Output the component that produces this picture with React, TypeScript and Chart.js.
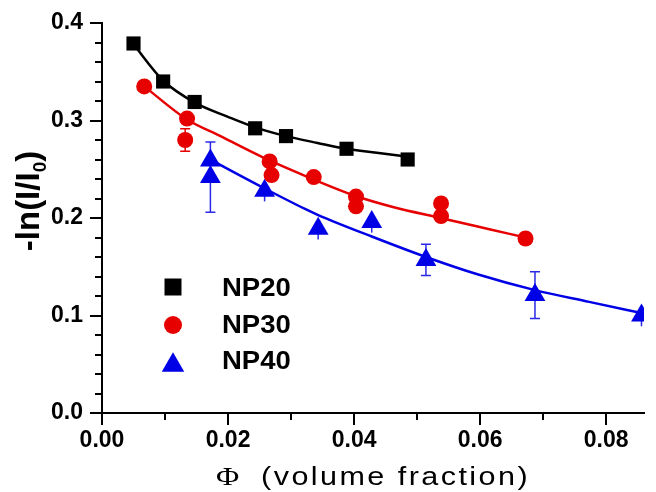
import React, { useEffect, useRef } from 'react';
import { Chart, registerables } from 'chart.js';

Chart.register(...registerables);

// ---------- data ----------
const seriesNames = ['NP20', 'NP30', 'NP40'];

const np20X = [0.0050, 0.0097, 0.0147, 0.0243, 0.0292, 0.0388, 0.0485];
const np20Y = [0.379, 0.340, 0.319, 0.292, 0.284, 0.271, 0.260];

const np30X = [0.0067, 0.0135, 0.0132, 0.0266, 0.0269, 0.0336, 0.0403, 0.0403, 0.0538, 0.0538, 0.0672];
const np30Y = [0.335, 0.302, 0.280, 0.258, 0.244, 0.242, 0.222, 0.212, 0.215, 0.202, 0.179];
const np30ErrPlus = [0, 0, 0.0115, 0, 0, 0, 0, 0, 0, 0, 0];
const np30ErrMinus = [0, 0, 0.0115, 0, 0, 0, 0, 0, 0, 0, 0];

const np40X = [0.0172, 0.0172, 0.0258, 0.0343, 0.0428, 0.0514, 0.0687, 0.0856];
const np40Y = [0.259, 0.242, 0.228, 0.189, 0.196, 0.157, 0.121, 0.100];
const np40ErrPlus = [0, 0.036, 0, 0, 0, 0.016, 0.024, 0];
const np40ErrMinus = [0, 0.036, 0.011, 0.011, 0.011, 0.016, 0.024, 0.011];

const fit20X = [0.0049, 0.0097, 0.0148, 0.0199, 0.0243, 0.0292, 0.0342, 0.0388, 0.0436, 0.0483];
const fit20Y = [0.379, 0.341, 0.318, 0.304, 0.293, 0.284, 0.277, 0.271, 0.267, 0.263];

const fit30X = [0.0067, 0.0135, 0.0188, 0.0266, 0.0323, 0.0405, 0.0463, 0.0537, 0.0618, 0.0672];
const fit30Y = [0.335, 0.301, 0.284, 0.259, 0.243, 0.222, 0.211, 0.200, 0.188, 0.180];

const fit40X = [0.0172, 0.0189, 0.0259, 0.0323, 0.0343, 0.0428, 0.0514, 0.0597, 0.0687, 0.0773, 0.0860];
const fit40Y = [0.260, 0.254, 0.230, 0.209, 0.203, 0.181, 0.160, 0.142, 0.126, 0.114, 0.102];

const xMajorTicks = [0, 0.02, 0.04, 0.06, 0.08];
const xTickLabels = ['0.00', '0.02', '0.04', '0.06', '0.08'];
const xMinorTicks = [0.01, 0.03, 0.05, 0.07];
const yMajorTicks = [0, 0.1, 0.2, 0.3, 0.4];
const yTickLabels = ['0.0', '0.1', '0.2', '0.3', '0.4'];
const yMinorTicks = [0.02, 0.04, 0.06, 0.08, 0.12, 0.14, 0.16, 0.18, 0.22, 0.24, 0.26, 0.28, 0.32, 0.34, 0.36, 0.38];

const xTitlePhi = 'Φ';
const xTitleRest = '  (volume fraction)';
const yTitleMain = '-ln(I/I';
const yTitleSub = '0';
const yTitleEnd = ')';

// ---------- styles ----------
const BLACK = '#000000';
const RED = '#e60000';
const BLUE = '#0000e6';
const ERR_BLUE = '#2a2ae6';
const TICK_FONT = { family: '"Liberation Sans", Arial, sans-serif', size: 23, weight: 'bold' };

const pts = (xs: number[], ys: number[]) => xs.map((x, i) => ({ x, y: ys[i] }));

const extrasPlugin = {
  id: 'extras',
  beforeDatasetsDraw(chart: any) {
    const ctx = chart.ctx;
    const xs = chart.scales.x;
    const ys = chart.scales.y;
    const drawErr = (X: number[], Y: number[], plus: number[], minus: number[], color: string) => {
      ctx.save();
      ctx.strokeStyle = color;
      ctx.lineWidth = 1.5;
      X.forEach((x, i) => {
        const p = plus[i];
        const m = minus[i];
        if (!p && !m) return;
        const px = xs.getPixelForValue(x);
        const top = ys.getPixelForValue(Y[i] + p);
        const bot = ys.getPixelForValue(Y[i] - m);
        ctx.beginPath();
        ctx.moveTo(px, top);
        ctx.lineTo(px, bot);
        if (p > 0) {
          ctx.moveTo(px - 5, top);
          ctx.lineTo(px + 5, top);
          ctx.moveTo(px - 5, bot);
          ctx.lineTo(px + 5, bot);
        }
        ctx.stroke();
      });
      ctx.restore();
    };
    drawErr(np30X, np30Y, np30ErrPlus, np30ErrMinus, RED);
    drawErr(np40X, np40Y, np40ErrPlus, np40ErrMinus, ERR_BLUE);
  },
  afterDraw(chart: any) {
    const ctx = chart.ctx;
    const xs = chart.scales.x;
    const ys = chart.scales.y;
    const area = chart.chartArea;
    ctx.save();
    // minor ticks
    ctx.strokeStyle = BLACK;
    ctx.lineWidth = 2;
    ctx.beginPath();
    xMinorTicks.forEach((v) => {
      const px = Math.round(xs.getPixelForValue(v));
      ctx.moveTo(px, area.bottom + 1);
      ctx.lineTo(px, area.bottom + 7);
    });
    yMinorTicks.forEach((v) => {
      const py = Math.round(ys.getPixelForValue(v));
      ctx.moveTo(area.left - 1, py);
      ctx.lineTo(area.left - 7, py);
    });
    ctx.stroke();

    // x title
    ctx.fillStyle = BLACK;
    ctx.textBaseline = 'alphabetic';
    ctx.textAlign = 'left';
    ctx.font = '26px "Liberation Serif"';
    const wPhi = ctx.measureText(xTitlePhi).width;
    ctx.font = '25px "Liberation Sans"';
    (ctx as any).letterSpacing = '2px';
    const wRest = ctx.measureText(xTitleRest).width;
    const targetW = 314;
    const sx = targetW / (wPhi + wRest);
    const cx = (area.left + area.right) / 2;
    ctx.save();
    ctx.translate(cx - targetW / 2, 485);
    ctx.scale(sx, 1);
    (ctx as any).letterSpacing = '0px';
    ctx.font = '26px "Liberation Serif"';
    ctx.fillText(xTitlePhi, 0, 0);
    (ctx as any).letterSpacing = '2px';
    ctx.font = '25px "Liberation Sans"';
    ctx.fillText(xTitleRest, wPhi, 0);
    ctx.restore();
    (ctx as any).letterSpacing = '0px';

    // y title (rotated, with subscript)
    ctx.font = 'bold 33px "Liberation Sans"';
    const w1 = ctx.measureText(yTitleMain).width;
    const w3 = ctx.measureText(yTitleEnd).width;
    ctx.font = 'bold 19px "Liberation Sans"';
    const w2 = ctx.measureText(yTitleSub).width;
    const total = w1 + w2 + w3;
    ctx.save();
    ctx.translate(38.5, 201);
    ctx.rotate(-Math.PI / 2);
    let pos = -total / 2;
    ctx.font = 'bold 33px "Liberation Sans"';
    ctx.fillText(yTitleMain, pos, 0);
    pos += w1;
    ctx.font = 'bold 19px "Liberation Sans"';
    ctx.fillText(yTitleSub, pos, 7);
    pos += w2;
    ctx.font = 'bold 33px "Liberation Sans"';
    ctx.fillText(yTitleEnd, pos, 0);
    ctx.restore();

    // legend
    const rows = [287, 324, 360];
    const colors = [BLACK, RED, BLUE];
    const mx = 173;
    rows.forEach((ry, i) => {
      ctx.fillStyle = colors[i];
      ctx.beginPath();
      if (i === 0) {
        ctx.rect(mx - 8.5, ry - 8.5, 17, 17);
      } else if (i === 1) {
        ctx.arc(mx, ry + 1, 9, 0, Math.PI * 2);
      } else {
        const r = 13;
        const cy = ry + 2;
        ctx.moveTo(mx, cy - r * 0.75);
        ctx.lineTo(mx + r * 0.866, cy + r * 0.75);
        ctx.lineTo(mx - r * 0.866, cy + r * 0.75);
        ctx.closePath();
      }
      ctx.fill();
      ctx.fillStyle = BLACK;
      ctx.font = 'bold 25px "Liberation Sans"';
      ctx.save();
      ctx.translate(222, ry + 9);
      ctx.scale(1.1, 1);
      ctx.fillText(seriesNames[i], 0, 0);
      ctx.restore();
    });
    ctx.restore();
  },
};

export default function App() {
  const canvasRef = useRef<HTMLCanvasElement | null>(null);

  useEffect(() => {
    const canvas = canvasRef.current;
    if (!canvas) return;
    const chart = new Chart(canvas, {
      type: 'scatter',
      data: {
        datasets: [
          {
            label: seriesNames[0],
            data: pts(np20X, np20Y),
            pointStyle: 'rect',
            pointRadius: 10,
            pointBorderWidth: 0,
            backgroundColor: BLACK,
            borderColor: BLACK,
            showLine: false,
            order: 0,
          },
          {
            label: seriesNames[1],
            data: pts(np30X, np30Y),
            pointStyle: 'circle',
            pointRadius: 8,
            pointBorderWidth: 0,
            backgroundColor: RED,
            borderColor: RED,
            showLine: false,
            order: 0,
          },
          {
            label: seriesNames[2],
            data: pts(np40X, np40Y),
            pointStyle: 'triangle',
            pointRadius: 12,
            pointBorderWidth: 0,
            backgroundColor: BLUE,
            borderColor: BLUE,
            showLine: false,
            order: 0,
          },
          {
            label: seriesNames[0] + ' fit',
            data: pts(fit20X, fit20Y),
            showLine: true,
            pointRadius: 0,
            borderColor: BLACK,
            borderWidth: 2.5,
            cubicInterpolationMode: 'monotone',
            fill: false,
            order: 1,
          },
          {
            label: seriesNames[1] + ' fit',
            data: pts(fit30X, fit30Y),
            showLine: true,
            pointRadius: 0,
            borderColor: RED,
            borderWidth: 2.5,
            cubicInterpolationMode: 'monotone',
            fill: false,
            order: 1,
          },
          {
            label: seriesNames[2] + ' fit',
            data: pts(fit40X, fit40Y),
            showLine: true,
            pointRadius: 0,
            borderColor: BLUE,
            borderWidth: 2.5,
            cubicInterpolationMode: 'monotone',
            fill: false,
            order: 1,
          },
        ],
      } as any,
      options: {
        responsive: false,
        animation: false,
        events: [],
        layout: { padding: { top: 23, left: 0, right: 0, bottom: 0 } },
        plugins: {
          legend: { display: false },
          tooltip: { enabled: false },
          title: { display: false },
        },
        scales: {
          x: {
            type: 'linear',
            position: 'bottom',
            min: 0,
            max: 0.086,
            afterBuildTicks: (s: any) => {
              s.ticks = xMajorTicks.map((v) => ({ value: v }));
            },
            afterFit: (s: any) => {
              s.height = 79;
            },
            ticks: {
              autoSkip: false,
              maxRotation: 0,
              padding: 2,
              color: BLACK,
              font: TICK_FONT,
              callback: (v: any) => {
                const i = xMajorTicks.findIndex((t) => Math.abs(t - v) < 1e-9);
                return i >= 0 ? xTickLabels[i] : '';
              },
            },
            grid: {
              display: true,
              drawOnChartArea: false,
              drawTicks: true,
              tickLength: 12,
              lineWidth: 2,
              color: BLACK,
              tickColor: BLACK,
            },
            border: { display: true, color: BLACK, width: 2 },
          },
          y: {
            type: 'linear',
            position: 'left',
            min: 0,
            max: 0.4,
            afterBuildTicks: (s: any) => {
              s.ticks = yMajorTicks.map((v) => ({ value: v }));
            },
            afterFit: (s: any) => {
              s.width = 102;
            },
            ticks: {
              autoSkip: false,
              padding: 7,
              color: BLACK,
              font: TICK_FONT,
              callback: (v: any) => {
                const i = yMajorTicks.findIndex((t) => Math.abs(t - v) < 1e-9);
                return i >= 0 ? yTickLabels[i] : '';
              },
            },
            grid: {
              display: true,
              drawOnChartArea: false,
              drawTicks: true,
              tickLength: 12,
              lineWidth: 2,
              color: BLACK,
              tickColor: BLACK,
            },
            border: { display: true, color: BLACK, width: 2 },
          },
        },
      } as any,
      plugins: [extrasPlugin],
    });
    return () => chart.destroy();
  }, []);

  return (
    <div style={{ position: 'fixed', left: 0, top: 0, width: 656, height: 492, background: '#ffffff' }}>
      <canvas ref={canvasRef} width={656} height={492} style={{ display: 'block' }} />
    </div>
  );
}
